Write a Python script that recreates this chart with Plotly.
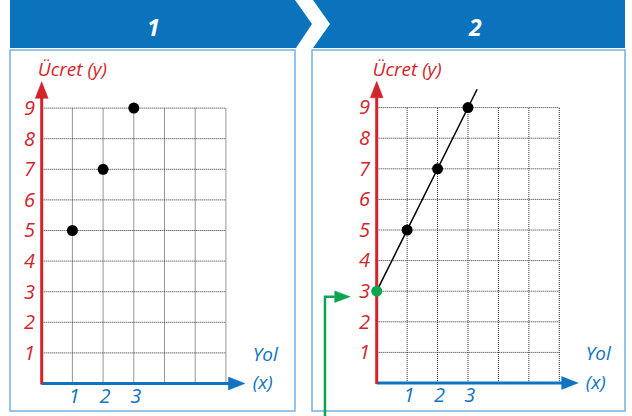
import plotly.graph_objects as go

# ---- data ----
panel_titles = ["1", "2"]
points_x = [1, 2, 3]
points_y = [5, 7, 9]
line_x = [0, 3.3]          # fitted line y = 2x + 3 drawn across the grid
line_y = [3, 9.6]
intercept_x = [0]
intercept_y = [3]
y_ticks = [1, 2, 3, 4, 5, 6, 7, 8, 9]
x_ticks = [1, 2, 3]
grid_x_max = 6
grid_y_max = 9
y_title = "Ücret (y)"
x_title_top = "Yol"
x_title_bottom = "(x)"

# ---- styling ----
W, H = 632, 416
HEADER_BLUE = "#0b72bc"
BORDER_BLUE = "#74b3e2"
RED = "#d3232b"
BLUE = "#0f73c1"
GREEN = "#0aa54e"
FONT = "Open Sans"

# pixel geometry of each panel: origin, unit size, box
panels = [
    dict(ox=41.7, oy=383.5, sx=30.7, sy=30.6, bx0=10, bx1=295),
    dict(ox=376.7, oy=383.0, sx=30.43, sy=30.6, bx0=312, bx1=625),
]
BOX_TOP, BOX_BOTTOM = 50, 411

fig = go.Figure()


def px(x):
    return x / W


def py(y):
    return 1 - y / H


def add(trace, i):
    trace.xaxis = "x" if i == 0 else "x2"
    trace.yaxis = "y" if i == 0 else "y2"
    trace.showlegend = False
    trace.hoverinfo = "skip"
    fig.add_trace(trace)


for i, p in enumerate(panels):
    # dotted grid
    for gx in range(1, grid_x_max + 1):
        add(go.Scatter(x=[gx, gx], y=[0, grid_y_max], mode="lines",
                       line=dict(color="#2e2e2e", width=1, dash="1px,1px")), i)
    for gy in range(1, grid_y_max + 1):
        add(go.Scatter(x=[0, grid_x_max], y=[gy, gy], mode="lines",
                       line=dict(color="#2e2e2e", width=1, dash="1px,1px")), i)

    # x axis with arrowhead
    add(go.Scatter(x=[0, 6.1], y=[0, 0], mode="lines",
                   line=dict(color=BLUE, width=3)), i)
    add(go.Scatter(x=[6.08, 6.08, 6.62, 6.08], y=[-0.21, 0.21, 0, -0.21],
                   mode="lines", fill="toself", fillcolor=BLUE,
                   line=dict(color=BLUE, width=0.5)), i)
    # y axis with arrowhead
    add(go.Scatter(x=[0, 0], y=[-0.03, 9.34], mode="lines",
                   line=dict(color=RED, width=3)), i)
    add(go.Scatter(x=[-0.21, 0.21, 0, -0.21], y=[9.32, 9.32, 9.86, 9.32],
                   mode="lines", fill="toself", fillcolor=RED,
                   line=dict(color=RED, width=0.5)), i)

    # tick labels
    add(go.Scatter(x=[-0.4] * len(y_ticks), y=[v - 0.06 for v in y_ticks],
                   mode="text", text=[str(v) for v in y_ticks], cliponaxis=False,
                   textfont=dict(family=FONT, size=20, color=RED, style="italic")), i)
    add(go.Scatter(x=[v + 0.06 for v in x_ticks], y=[-0.46] * len(x_ticks),
                   mode="text", text=[str(v) for v in x_ticks], cliponaxis=False,
                   textfont=dict(family=FONT, size=20, color=BLUE, style="italic")), i)

    # axis titles
    add(go.Scatter(x=[1.0], y=[10.2], mode="text", text=[y_title], cliponaxis=False,
                   textfont=dict(family=FONT, size=19, color=RED, style="italic")), i)
    add(go.Scatter(x=[7.28, 7.2], y=[0.9, -0.03], mode="text",
                   text=[x_title_top, x_title_bottom], cliponaxis=False,
                   textfont=dict(family=FONT, size=19, color=BLUE, style="italic")), i)

# panel 2: line through the points and the intercept marker
add(go.Scatter(x=line_x, y=line_y, mode="lines",
               line=dict(color="black", width=1.5)), 1)

# green pointer to the intercept
add(go.Scatter(x=[-1.70, -1.70, -1.38], y=[-1.3, 2.82, 2.82], mode="lines",
               line=dict(color=GREEN, width=2.5)), 1)
add(go.Scatter(x=[-1.38, -1.38, -0.87, -1.38], y=[2.63, 3.01, 2.82, 2.63],
               mode="lines", fill="toself", fillcolor=GREEN,
               line=dict(color=GREEN, width=0.5)), 1)

# data points
for i in range(2):
    add(go.Scatter(x=points_x, y=points_y, mode="markers", cliponaxis=False,
                   marker=dict(color="black", size=11)), i)
add(go.Scatter(x=intercept_x, y=intercept_y, mode="markers", cliponaxis=False,
               marker=dict(color=GREEN, size=11)), 1)

# axes layout
layout_axes = {}
for i, p in enumerate(panels):
    xr = [(p["bx0"] - p["ox"]) / p["sx"], (p["bx1"] - p["ox"]) / p["sx"]]
    yr = [(p["oy"] - H) / p["sy"], (p["oy"] - BOX_TOP) / p["sy"]]
    xa = dict(domain=[px(p["bx0"]), px(p["bx1"])], range=xr, visible=False,
              fixedrange=True)
    ya = dict(domain=[0, py(BOX_TOP)], range=yr, visible=False, fixedrange=True)
    if i == 0:
        layout_axes["xaxis"] = dict(xa, anchor="y")
        layout_axes["yaxis"] = dict(ya, anchor="x")
    else:
        layout_axes["xaxis2"] = dict(xa, anchor="y2")
        layout_axes["yaxis2"] = dict(ya, anchor="x2")

shapes = []
# panel frames
for p in panels:
    shapes.append(dict(type="rect", xref="paper", yref="paper",
                       x0=px(p["bx0"]), x1=px(p["bx1"]),
                       y0=py(BOX_BOTTOM), y1=py(BOX_TOP),
                       line=dict(color=BORDER_BLUE, width=1.5), layer="below"))


def poly(pts):
    return "M " + " L ".join(f"{px(x):.5f},{py(y):.5f}" for x, y in pts) + " Z"


# chevron headers
shapes.append(dict(type="path", xref="paper", yref="paper",
                   path=poly([(10, 0), (295, 0), (312, 24), (296, 48), (10, 48)]),
                   fillcolor=HEADER_BLUE, line=dict(width=0), layer="below"))
shapes.append(dict(type="path", xref="paper", yref="paper",
                   path=poly([(313, 0), (625, 0), (625, 48), (313, 48), (330, 24)]),
                   fillcolor=HEADER_BLUE, line=dict(width=0), layer="below"))

annotations = []
for title, cx in zip(panel_titles, [153, 475]):
    annotations.append(dict(x=px(cx), y=py(27), xref="paper", yref="paper",
                            xanchor="center", yanchor="middle",
                            text=title, showarrow=False,
                            font=dict(family=FONT, size=23, color="white",
                                      weight="bold", style="italic")))

fig.update_layout(
    width=W, height=H,
    margin=dict(l=0, r=0, t=0, b=0),
    paper_bgcolor="white", plot_bgcolor="rgba(0,0,0,0)",
    shapes=shapes, annotations=annotations,
    **layout_axes,
)

fig.write_html("out.html", config={"displayModeBar": False})
